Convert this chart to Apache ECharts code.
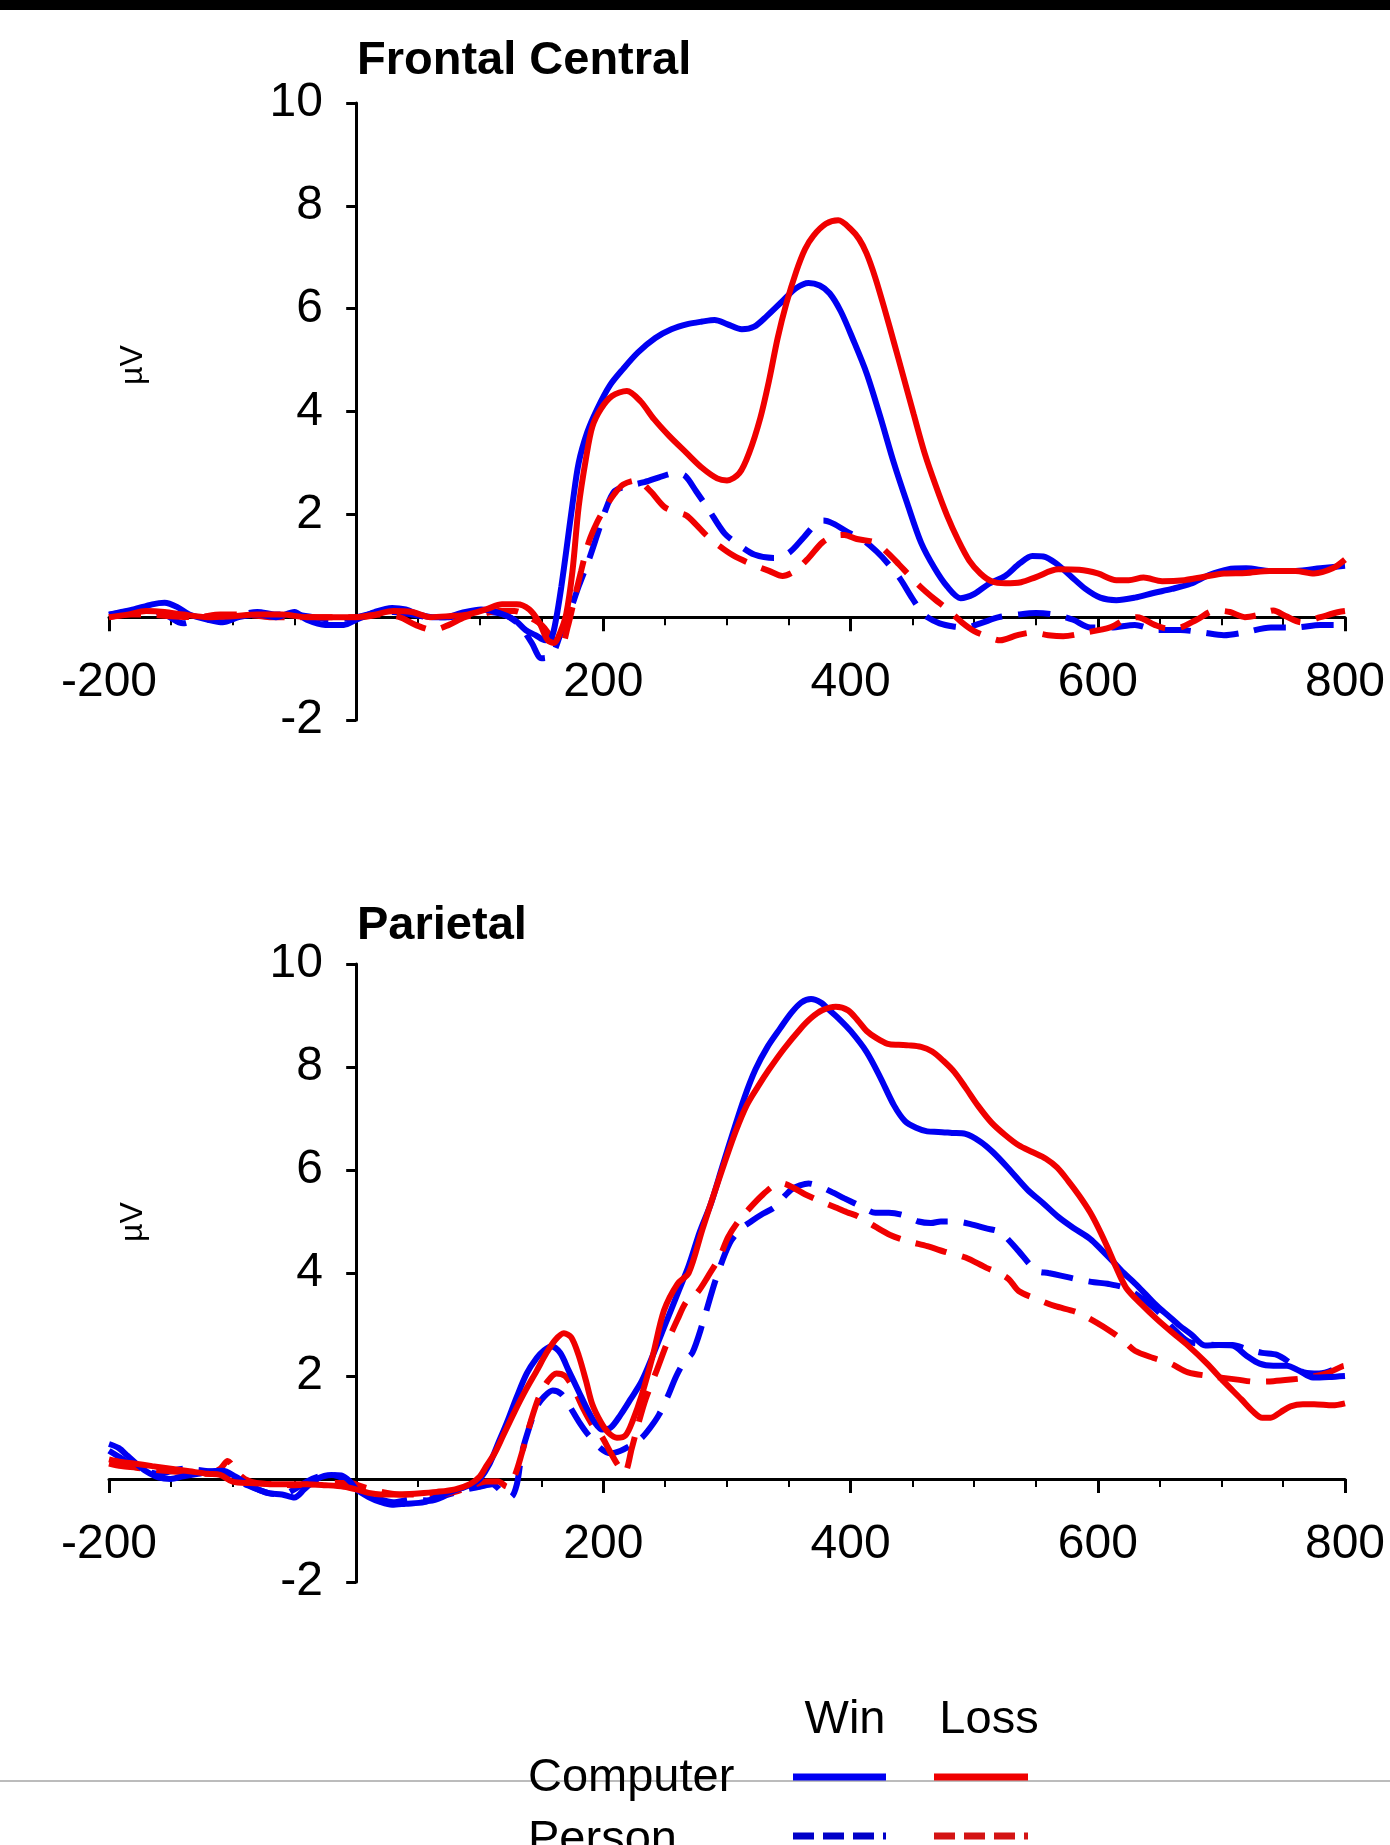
<!DOCTYPE html>
<html>
<head>
<meta charset="utf-8">
<script src="https://cdn.jsdelivr.net/npm/echarts@6/dist/echarts.min.js"></script>
<style>
  html, body { margin: 0; padding: 0; background: #fff; }
  #chart { width: 1390px; height: 1845px; }
</style>
</head>
<body>
<div id="chart"></div>
<script>
// time (ms) / amplitude (uV) pairs
const fcCompWin = [[-200,0.05],[-190,0.1],[-180,0.15],[-165,0.25],[-155,0.28],[-145,0.2],[-135,0.05],[-120,-0.05],[-108,-0.1],[-95,0.0],[-80,0.05],[-65,0.0],[-50,0.1],[-40,-0.05],[-25,-0.15],[-10,-0.15],[0,-0.05],[15,0.1],[29,0.18],[40,0.15],[51,0.05],[62,0.0],[72,0.0],[85,0.08],[101,0.15],[116,0.08],[128,-0.05],[137,-0.25],[145,-0.35],[153,-0.45],[158,-0.4],[162,0.0],[166,0.6],[170,1.3],[175,2.2],[180,3.0],[187,3.6],[195,4.05],[205,4.5],[216,4.83],[228,5.15],[242,5.43],[255,5.6],[268,5.7],[280,5.75],[290,5.78],[300,5.7],[312,5.6],[322,5.65],[332,5.85],[345,6.15],[356,6.4],[366,6.5],[375,6.45],[383,6.3],[392,5.95],[402,5.4],[413,4.74],[424,3.9],[435,3.0],[446,2.2],[457,1.45],[468,0.95],[478,0.6],[489,0.37],[500,0.45],[512,0.65],[525,0.8],[537,1.05],[547,1.19],[556,1.18],[566,1.05],[578,0.8],[590,0.55],[602,0.38],[615,0.33],[630,0.38],[645,0.47],[660,0.55],[675,0.65],[690,0.82],[705,0.93],[720,0.95],[740,0.9],[760,0.9],[780,0.95],[800,1.0]];
const fcCompLoss = [[-200,0.0],[-185,0.05],[-170,0.12],[-155,0.1],[-140,0.05],[-120,0.0],[-100,0.02],[-80,0.05],[-60,0.05],[-40,0.0],[-20,0.0],[0,0.0],[15,0.05],[30,0.12],[45,0.1],[60,0.0],[75,0.02],[90,0.05],[105,0.15],[118,0.25],[130,0.25],[140,0.15],[148,-0.1],[155,-0.45],[160,-0.5],[165,-0.3],[170,0.07],[175,0.9],[180,2.15],[186,3.1],[191,3.7],[198,4.05],[207,4.3],[219,4.4],[230,4.2],[241,3.85],[253,3.53],[267,3.2],[280,2.9],[292,2.7],[300,2.66],[310,2.8],[318,3.2],[327,3.88],[334,4.6],[341,5.43],[348,6.1],[356,6.72],[363,7.15],[370,7.42],[380,7.65],[390,7.72],[400,7.55],[407,7.35],[413,7.07],[420,6.6],[428,5.95],[435,5.35],[442,4.74],[451,3.95],[460,3.18],[469,2.55],[478,1.98],[487,1.5],[496,1.1],[505,0.85],[514,0.7],[525,0.66],[538,0.68],[550,0.78],[568,0.93],[585,0.92],[600,0.85],[615,0.72],[625,0.72],[637,0.77],[652,0.7],[670,0.72],[685,0.78],[702,0.85],[720,0.86],[739,0.9],[760,0.9],[775,0.85],[790,0.95],[800,1.12]];
const fcPersWin = [[-200,0.05],[-185,0.1],[-170,0.12],[-155,0.05],[-140,-0.12],[-125,0.0],[-100,0.02],[-80,0.1],[-65,0.05],[-50,0.05],[-35,0.0],[-20,-0.05],[0,0.0],[15,0.08],[30,0.1],[45,0.05],[60,0.0],[75,0.0],[90,0.05],[105,0.1],[120,0.05],[132,-0.15],[142,-0.5],[150,-0.8],[158,-0.75],[165,-0.35],[172,0.05],[180,0.6],[188,1.1],[195,1.6],[202,2.1],[209,2.45],[220,2.55],[232,2.62],[245,2.72],[258,2.8],[266,2.75],[275,2.45],[285,2.1],[298,1.63],[310,1.4],[322,1.22],[338,1.15],[350,1.25],[362,1.55],[372,1.82],[378,1.88],[386,1.82],[398,1.65],[410,1.5],[421,1.28],[430,1.05],[440,0.75],[449,0.4],[456,0.15],[462,0.0],[472,-0.12],[483,-0.18],[493,-0.2],[505,-0.12],[520,0.0],[535,0.05],[550,0.08],[565,0.05],[580,-0.05],[594,-0.2],[610,-0.2],[630,-0.15],[648,-0.25],[667,-0.25],[685,-0.3],[702,-0.35],[718,-0.3],[740,-0.2],[760,-0.2],[780,-0.15],[800,-0.15]];
const fcPersLoss = [[-200,0.0],[-185,0.05],[-170,0.05],[-150,0.02],[-130,0.0],[-110,0.05],[-90,0.05],[-70,0.0],[-50,0.0],[-30,0.0],[-10,0.0],[5,0.0],[20,0.05],[35,0.0],[48,-0.15],[62,-0.25],[75,-0.15],[88,0.0],[100,0.05],[115,0.12],[128,0.12],[140,0.0],[150,-0.15],[160,-0.45],[166,-0.55],[171,-0.2],[177,0.4],[182,0.9],[188,1.45],[195,1.85],[202,2.15],[209,2.4],[216,2.58],[227,2.66],[238,2.45],[249,2.15],[258,2.05],[267,1.98],[275,1.8],[283,1.6],[294,1.38],[305,1.2],[318,1.05],[334,0.9],[345,0.8],[355,0.9],[366,1.15],[377,1.45],[387,1.58],[395,1.6],[405,1.52],[420,1.45],[430,1.25],[439,1.03],[448,0.8],[457,0.58],[468,0.35],[478,0.16],[490,-0.1],[500,-0.27],[511,-0.38],[521,-0.45],[535,-0.35],[547,-0.3],[560,-0.35],[572,-0.37],[590,-0.3],[610,-0.2],[622,-0.05],[632,0.0],[646,-0.15],[656,-0.22],[667,-0.2],[680,-0.05],[695,0.13],[707,0.1],[719,0.0],[731,0.05],[742,0.13],[752,0.02],[765,-0.1],[780,0.0],[795,0.1],[800,0.12]];

const parCompWin = [[-200,0.68],[-192,0.6],[-185,0.45],[-178,0.3],[-170,0.15],[-160,0.03],[-150,0.0],[-140,0.05],[-128,0.1],[-118,0.15],[-108,0.16],[-98,0.05],[-88,-0.1],[-78,-0.22],[-70,-0.28],[-60,-0.3],[-50,-0.36],[-42,-0.2],[-32,0.0],[-20,0.08],[-12,0.07],[-5,-0.05],[0,-0.2],[10,-0.35],[20,-0.45],[29,-0.5],[40,-0.48],[55,-0.45],[65,-0.35],[72,-0.28],[85,-0.18],[94,-0.1],[100,0.0],[108,0.3],[115,0.7],[122,1.1],[130,1.6],[138,2.05],[146,2.35],[152,2.5],[158,2.58],[165,2.45],[172,2.1],[180,1.7],[187,1.35],[193,1.1],[199,0.96],[206,1.0],[214,1.25],[222,1.55],[231,1.9],[240,2.4],[250,3.0],[260,3.6],[269,4.14],[278,4.8],[287,5.35],[296,6.05],[305,6.74],[314,7.4],[323,7.95],[333,8.4],[343,8.75],[352,9.05],[360,9.25],[368,9.32],[376,9.25],[383,9.1],[390,8.95],[400,8.7],[413,8.29],[424,7.8],[435,7.26],[444,6.95],[453,6.82],[462,6.75],[471,6.74],[482,6.72],[493,6.7],[505,6.55],[515,6.35],[527,6.05],[543,5.62],[556,5.35],[568,5.09],[580,4.88],[594,4.66],[603,4.45],[612,4.23],[621,4.0],[630,3.8],[639,3.58],[648,3.36],[657,3.17],[666,2.98],[676,2.8],[687,2.59],[698,2.6],[709,2.59],[720,2.4],[731,2.24],[742,2.2],[753,2.2],[763,2.1],[774,1.97],[787,1.98],[800,2.0]];
const parCompLoss = [[-200,0.38],[-190,0.33],[-180,0.3],[-165,0.25],[-150,0.2],[-135,0.15],[-120,0.1],[-110,0.08],[-100,-0.05],[-85,-0.08],[-70,-0.1],[-55,-0.1],[-40,-0.1],[-25,-0.12],[-10,-0.15],[0,-0.2],[10,-0.27],[20,-0.3],[35,-0.3],[50,-0.28],[65,-0.25],[80,-0.2],[92,-0.1],[100,0.05],[105,0.24],[112,0.5],[119,0.85],[128,1.3],[137,1.72],[146,2.1],[154,2.45],[161,2.7],[168,2.83],[174,2.75],[180,2.4],[186,1.9],[191,1.45],[198,1.1],[204,0.9],[211,0.8],[218,0.85],[224,1.15],[231,1.63],[240,2.4],[249,3.27],[260,3.79],[269,4.0],[280,4.84],[289,5.5],[298,6.14],[307,6.75],[316,7.26],[325,7.62],[334,7.95],[346,8.35],[359,8.73],[368,8.95],[377,9.1],[388,9.17],[398,9.1],[406,8.9],[413,8.7],[421,8.56],[430,8.45],[439,8.43],[447,8.42],[457,8.39],[466,8.3],[475,8.12],[484,7.9],[493,7.6],[503,7.25],[514,6.92],[525,6.68],[536,6.48],[547,6.35],[558,6.22],[567,6.05],[576,5.79],[585,5.5],[594,5.17],[601,4.85],[608,4.49],[615,4.1],[623,3.71],[635,3.4],[648,3.1],[660,2.85],[673,2.59],[688,2.25],[702,1.89],[716,1.55],[726,1.3],[733,1.19],[740,1.19],[748,1.3],[756,1.41],[766,1.45],[775,1.45],[790,1.43],[800,1.47]];
const parPersWin = [[-200,0.55],[-190,0.4],[-180,0.25],[-170,0.15],[-160,0.1],[-150,0.15],[-140,0.2],[-130,0.18],[-120,0.15],[-110,0.1],[-100,0.0],[-90,-0.1],[-80,-0.2],[-70,-0.28],[-60,-0.3],[-50,-0.2],[-40,-0.05],[-30,0.05],[-20,0.08],[-10,0.0],[0,-0.2],[10,-0.3],[20,-0.4],[30,-0.45],[45,-0.4],[60,-0.42],[75,-0.3],[90,-0.2],[100,-0.15],[110,-0.1],[118,-0.25],[125,-0.35],[130,-0.1],[134,0.5],[140,1.0],[146,1.4],[152,1.6],[159,1.72],[166,1.65],[173,1.4],[180,1.12],[188,0.85],[198,0.59],[206,0.5],[214,0.55],[222,0.65],[231,0.8],[238,1.0],[245,1.25],[252,1.6],[259,2.0],[266,2.3],[272,2.45],[280,3.0],[291,3.88],[302,4.57],[311,4.85],[320,5.01],[329,5.15],[338,5.27],[345,5.45],[352,5.62],[359,5.7],[366,5.74],[375,5.68],[385,5.57],[395,5.45],[408,5.3],[420,5.17],[431,5.17],[443,5.12],[455,5.0],[465,4.97],[473,5.0],[485,5.0],[497,4.95],[509,4.87],[521,4.79],[535,4.45],[550,4.05],[560,4.0],[570,3.95],[585,3.87],[597,3.82],[608,3.79],[623,3.7],[636,3.5],[648,3.27],[660,2.95],[673,2.67],[685,2.62],[697,2.6],[709,2.6],[721,2.52],[733,2.45],[745,2.41],[756,2.25],[767,2.07],[779,2.05],[790,2.12],[798,2.24],[800,2.22]];
const parPersLoss = [[-200,0.3],[-190,0.25],[-178,0.22],[-165,0.18],[-150,0.15],[-135,0.12],[-120,0.1],[-110,0.2],[-104,0.35],[-97,0.15],[-90,0.0],[-80,-0.08],[-65,-0.1],[-50,-0.12],[-35,-0.1],[-20,-0.08],[-5,-0.08],[5,-0.15],[20,-0.25],[35,-0.3],[50,-0.3],[65,-0.3],[80,-0.25],[92,-0.15],[105,-0.05],[115,-0.05],[122,-0.15],[128,0.05],[134,0.5],[141,1.1],[148,1.6],[155,1.9],[162,2.05],[169,2.0],[176,1.75],[184,1.35],[191,1.05],[198,0.85],[205,0.55],[211,0.3],[217,0.12],[223,0.6],[228,1.05],[234,1.54],[243,2.1],[252,2.67],[260,3.1],[267,3.44],[276,3.62],[285,3.95],[294,4.31],[301,4.7],[309,5.0],[318,5.25],[328,5.5],[338,5.7],[345,5.74],[354,5.65],[363,5.53],[375,5.4],[388,5.27],[397,5.18],[406,5.1],[420,4.9],[432,4.74],[446,4.62],[462,4.52],[478,4.4],[493,4.3],[510,4.1],[520,4.0],[528,3.88],[536,3.65],[550,3.5],[565,3.36],[583,3.24],[598,3.05],[612,2.84],[621,2.68],[630,2.49],[645,2.35],[659,2.24],[673,2.07],[690,2.0],[713,1.93],[727,1.89],[742,1.9],[756,1.93],[770,1.97],[785,2.05],[798,2.19],[800,2.2]];

const panelTitles = ['Frontal Central', 'Parietal'];
const conditions = ['Win', 'Loss'];
const sources = ['Computer', 'Person'];

const BLUE = '#0000f2';
const RED = '#f00000';
const FONT = '"Liberation Sans", Arial, sans-serif';

const chart = echarts.init(document.getElementById('chart'));

const hideZero = v => (v === 0 ? '' : String(v));

// labels are placed from the grid edge, so the margins pull them back to the crossing axes
function xAxisFor(i) {
    return {
        type: 'value', gridIndex: i, min: -200, max: 800, interval: 200,
        axisLine: { onZero: true, lineStyle: { color: '#000', width: 3 } },
        axisTick: { show: true, length: 14, lineStyle: { color: '#000', width: 3 } },
        minorTick: { show: true, splitNumber: 4, length: 8, lineStyle: { color: '#000', width: 2 } },
        splitLine: { show: false },
        axisLabel: { margin: -61, fontSize: 48, color: '#000', fontFamily: FONT, formatter: hideZero }
    };
}
function yAxisFor(i) {
    return {
        type: 'value', gridIndex: i, min: -2, max: 10, interval: 2,
        axisLine: { show: true, onZero: true, lineStyle: { color: '#000', width: 3 } },
        axisTick: { show: true, length: 10, lineStyle: { color: '#000', width: 3 } },
        splitLine: { show: false },
        axisLabel: { margin: -214, fontSize: 48, color: '#000', fontFamily: FONT, formatter: hideZero }
    };
}
function line(name, data, idx, color, dashed) {
    return {
        name: name, type: 'line', xAxisIndex: idx, yAxisIndex: idx,
        data: data, showSymbol: false, symbol: 'none', smooth: 0.3,
        lineStyle: { color: color, width: 6, type: dashed ? [32, 16] : 'solid', cap: 'butt' },
        z: dashed ? 2 : 3
    };
}

const option = {
    backgroundColor: '#fff',
    animation: false,
    title: [
        { text: panelTitles[0], left: 357, top: 38, padding: 0,
          textStyle: { fontSize: 47, fontWeight: 'bold', color: '#000', fontFamily: FONT } },
        { text: panelTitles[1], left: 357, top: 903, padding: 0,
          textStyle: { fontSize: 47, fontWeight: 'bold', color: '#000', fontFamily: FONT } }
    ],
    grid: [
        { left: 109, right: 45, top: 103, height: 617 },
        { left: 109, right: 45, top: 964, height: 618 }
    ],
    xAxis: [xAxisFor(0), xAxisFor(1)],
    yAxis: [yAxisFor(0), yAxisFor(1)],
    series: [
        line('FC Person Win', fcPersWin, 0, BLUE, true),
        line('FC Person Loss', fcPersLoss, 0, RED, true),
        line('FC Computer Win', fcCompWin, 0, BLUE, false),
        line('FC Computer Loss', fcCompLoss, 0, RED, false),
        line('P Person Win', parPersWin, 1, BLUE, true),
        line('P Person Loss', parPersLoss, 1, RED, true),
        line('P Computer Win', parCompWin, 1, BLUE, false),
        line('P Computer Loss', parCompLoss, 1, RED, false)
    ],
    graphic: [
        // top black strip
        { type: 'rect', shape: { x: 0, y: 0, width: 1390, height: 10 }, style: { fill: '#000' }, z: 10 },
        // axis names
        { type: 'text', x: 133, y: 365, rotation: Math.PI / 2,
          style: { text: 'µV', fontSize: 32, fontFamily: FONT, fill: '#000', align: 'center', verticalAlign: 'middle' } },
        { type: 'text', x: 133, y: 1222, rotation: Math.PI / 2,
          style: { text: 'µV', fontSize: 32, fontFamily: FONT, fill: '#000', align: 'center', verticalAlign: 'middle' } },
        // thin grey rule near the bottom
        { type: 'line', shape: { x1: 0, y1: 1781, x2: 1390, y2: 1781 }, style: { stroke: '#bcbcbc', lineWidth: 2 }, z: 1 },
        // legend block
        { type: 'text', x: 845, y: 1720, style: { text: conditions[0], fontSize: 47, fontFamily: FONT, fill: '#000', align: 'center', verticalAlign: 'middle' }, z: 5 },
        { type: 'text', x: 989, y: 1720, style: { text: conditions[1], fontSize: 47, fontFamily: FONT, fill: '#000', align: 'center', verticalAlign: 'middle' }, z: 5 },
        { type: 'text', x: 528, y: 1778, style: { text: sources[0], fontSize: 47, fontFamily: FONT, fill: '#000', align: 'left', verticalAlign: 'middle' }, z: 5 },
        { type: 'text', x: 528, y: 1840, style: { text: sources[1], fontSize: 47, fontFamily: FONT, fill: '#000', align: 'left', verticalAlign: 'middle' }, z: 5 },
        { type: 'line', shape: { x1: 793, y1: 1777, x2: 886, y2: 1777 }, style: { stroke: BLUE, lineWidth: 7 }, z: 5 },
        { type: 'line', shape: { x1: 934, y1: 1777, x2: 1028, y2: 1777 }, style: { stroke: RED, lineWidth: 7 }, z: 5 },
        { type: 'line', shape: { x1: 793, y1: 1836, x2: 886, y2: 1836 }, style: { stroke: '#0000c8', lineWidth: 7, lineDash: [21, 9] }, z: 5 },
        { type: 'line', shape: { x1: 934, y1: 1836, x2: 1028, y2: 1836 }, style: { stroke: '#d41414', lineWidth: 7, lineDash: [21, 9] }, z: 5 }
    ]
};

chart.setOption(option);
</script>
</body>
</html>
